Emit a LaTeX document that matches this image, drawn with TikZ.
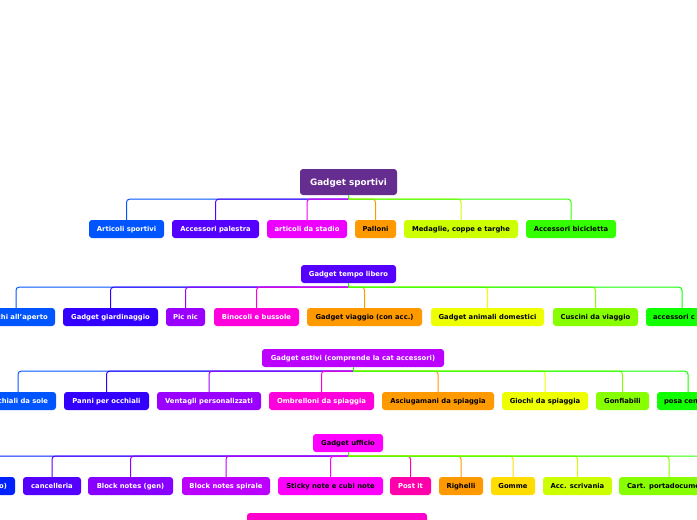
\documentclass[tikz,border=0pt]{standalone}
\usepackage{fontspec}
\setmainfont{DejaVu Sans}
\usetikzlibrary{calc}
\definecolor{croot}{HTML}{662D91}
\definecolor{cblue}{HTML}{0055FF}
\definecolor{cblue2}{HTML}{0022FF}
\definecolor{cviol}{HTML}{5500FF}
\definecolor{cviol2}{HTML}{3300FF}
\definecolor{cpurp}{HTML}{9900FF}
\definecolor{cpurp2}{HTML}{8800FF}
\definecolor{cpm}{HTML}{BB00FF}
\definecolor{cmag}{HTML}{EE00FF}
\definecolor{cmag2}{HTML}{FF00DD}
\definecolor{cfuc}{HTML}{FF00FF}
\definecolor{cpink}{HTML}{FF00AA}
\definecolor{cpink2}{HTML}{FF00CC}
\definecolor{corange}{HTML}{FF9900}
\definecolor{cyg}{HTML}{CCFF00}
\definecolor{cyel}{HTML}{EEFF00}
\definecolor{cgold}{HTML}{FFDD00}
\definecolor{clime}{HTML}{88FF00}
\definecolor{cgreen}{HTML}{33FF00}
\definecolor{cgreen2}{HTML}{11FF00}
\newcommand\lnk[3]{%
  \draw[link,#3] ($(#1.south)+(0,4)$) -| (#2.north);
  \draw[line width=1pt,#3] (#1.south) -- ++(0,4);}
\begin{document}
\begin{tikzpicture}[x=1pt,y=-1pt,
  box/.style={rounded corners=3pt, minimum height=18pt, inner sep=0pt,
    text height=6.2pt, text depth=1.2pt,
    font=\fontsize{6.8}{8}\selectfont\bfseries, text=white},
  dk/.style={text=black},
  lcut/.style={inner xsep=7pt, align=left},
  link/.style={line width=1pt, rounded corners=3pt}]
\clip (0,0) rectangle (697,520);
% root
\node[box, fill=croot, minimum width=97pt, minimum height=26pt,
  text height=7.6pt, text depth=1.6pt,
  font=\fontsize{8.8}{10}\selectfont\bfseries] (root) at (348.5,182) {Gadget sportivi};
% row 1
\node[box, fill=cblue, minimum width=75pt] (art) at (126.5,229) {Articoli sportivi};
\node[box, fill=cviol, minimum width=87pt] (pal) at (215.5,229) {Accessori palestra};
\node[box, fill=cmag, minimum width=80pt] (sta) at (307,229) {articoli da stadio};
\node[box, dk, fill=corange, minimum width=41pt] (pll) at (375.5,229) {Palloni};
\node[box, dk, fill=cyg, minimum width=114pt] (med) at (461,229) {Medaglie, coppe e targhe};
\node[box, dk, fill=cgreen, minimum width=90pt] (bic) at (571,229) {Accessori bicicletta};
\lnk{root}{art}{cblue}
\lnk{root}{pal}{cviol}
\lnk{root}{sta}{cmag}
\lnk{root}{pll}{corange}
\lnk{root}{med}{cyg}
\lnk{root}{bic}{cgreen}
% row 2
\node[box, fill=cviol, minimum width=95pt] (tl) at (348.5,274) {Gadget tempo libero};
\node[box, fill=cblue, minimum width=78pt] (gio) at (16,317) {Giochi all'aperto};
\node[box, fill=cviol2, minimum width=95pt] (gia) at (110.5,317) {Gadget giardinaggio};
\node[box, fill=cpurp, minimum width=39pt] (pic) at (185.5,317) {Pic nic};
\node[box, fill=cmag2, minimum width=85pt] (bin) at (256.5,317) {Binocoli e bussole};
\node[box, dk, fill=corange, minimum width=115pt] (via) at (364.5,317) {Gadget viaggio (con acc.)};
\node[box, dk, fill=cyel, minimum width=113pt] (ani) at (487.5,317) {Gadget animali domestici};
\node[box, dk, fill=clime, minimum width=85pt] (cus) at (595.5,317) {Cuscini da viaggio};
\node[box, dk, lcut, fill=cgreen2, text width=58pt] (acc) at (682,317) {accessori c};
\lnk{tl}{gio}{cblue}
\lnk{tl}{gia}{cviol2}
\lnk{tl}{pic}{cpurp}
\lnk{tl}{bin}{cmag2}
\lnk{tl}{via}{corange}
\lnk{tl}{ani}{cyel}
\lnk{tl}{cus}{clime}
\lnk{tl}{acc}{cgreen2}
% row 3
\node[box, fill=cpm, minimum width=182pt] (est) at (353,358) {Gadget estivi (comprende la cat accessori)};
\node[box, fill=cblue, minimum width=76pt] (occ) at (18,401) {Occhiali da sole};
\node[box, fill=cviol2, minimum width=85pt] (pan) at (106.5,401) {Panni per occhiali};
\node[box, fill=cpurp, minimum width=104pt] (ven) at (209,401) {Ventagli personalizzati};
\node[box, fill=cmag2, minimum width=105pt] (omb) at (321.5,401) {Ombrelloni da spiaggia};
\node[box, dk, fill=corange, minimum width=112pt] (asc) at (438,401) {Asciugamani da spiaggia};
\node[box, dk, fill=cyel, minimum width=86pt] (gsp) at (545,401) {Giochi da spiaggia};
\node[box, dk, fill=clime, minimum width=53pt] (gon) at (622.5,401) {Gonfiabili};
\node[box, dk, lcut, fill=cgreen2, text width=48pt] (pos) at (688,401) {posa cenere};
\lnk{est}{occ}{cblue}
\lnk{est}{pan}{cviol2}
\lnk{est}{ven}{cpurp}
\lnk{est}{omb}{cmag2}
\lnk{est}{asc}{corange}
\lnk{est}{gsp}{cyel}
\lnk{est}{gon}{clime}
\lnk{est}{pos}{cgreen2}
% row 4
\node[box, dk, fill=cfuc, minimum width=70pt] (uff) at (348,443) {Gadget ufficio};
\node[box, fill=cblue2, inner xsep=8pt, text width=64pt, align=right] (c0) at (-25,486) {o)};
\node[box, fill=cviol, minimum width=58pt] (can) at (52,486) {cancelleria};
\node[box, fill=cpurp2, minimum width=85pt] (bng) at (130.5,486) {Block notes (gen)};
\node[box, fill=cpm, minimum width=88pt] (bns) at (226,486) {Block notes spirale};
\node[box, dk, fill=cfuc, minimum width=105pt] (sti) at (330.5,486) {Sticky note e cubi note};
\node[box, fill=cpink, minimum width=41pt] (pit) at (410.5,486) {Post it};
\node[box, dk, fill=corange, minimum width=44pt] (rig) at (461,486) {Righelli};
\node[box, dk, fill=cgold, minimum width=44pt] (gom) at (513,486) {Gomme};
\node[box, dk, fill=cyg, minimum width=69pt] (scr) at (577.5,486) {Acc. scrivania};
\node[box, dk, fill=clime, inner xsep=8pt, text width=84pt, align=left] (crt) at (669,486) {Cart. portadocumenti};
\coordinate (offr) at (760,477);
\lnk{uff}{c0}{cblue2}
\lnk{uff}{can}{cviol}
\lnk{uff}{bng}{cpurp2}
\lnk{uff}{bns}{cpm}
\lnk{uff}{sti}{cfuc}
\lnk{uff}{pit}{cpink}
\lnk{uff}{rig}{corange}
\lnk{uff}{gom}{cgold}
\lnk{uff}{scr}{cyg}
\lnk{uff}{crt}{clime}
\draw[link,cgreen] ($(uff.south)+(0,4)$) -| (offr);
\draw[line width=1pt,cgreen] (uff.south) -- ++(0,4);
% next section (cut off)
\node[box, fill=cpink2, minimum width=180pt] (nxt) at (337,522) {};
\end{tikzpicture}
\end{document}
